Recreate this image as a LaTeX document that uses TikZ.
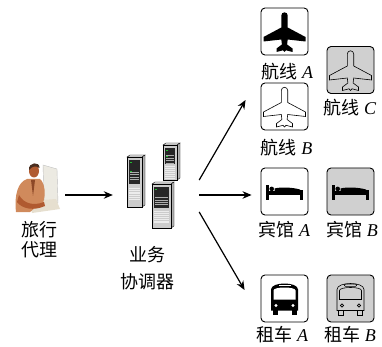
\documentclass[tikz,border=0pt]{standalone}
\usepackage{fontspec}
\setmainfont{Liberation Serif}
\newfontfamily\cjk{Noto Sans CJK SC}[BoldFont={}]
\usetikzlibrary{positioning,calc,arrows.meta}

\definecolor{boxgray}{HTML}{D0D0D0}
\definecolor{skin}{HTML}{B05A30}
\definecolor{shirt}{HTML}{D08A5C}
\definecolor{hair}{HTML}{4A2E20}
\definecolor{monitor}{HTML}{ECEAE2}
\definecolor{desk}{HTML}{E6DFCF}
\definecolor{led}{HTML}{22C030}

\newcommand{\zh}[1]{{\cjk #1}}

% one server tower: x, y (front top-left), width, height
\newcommand{\srvtower}[4]{%
  \begin{scope}[shift={(#1,#2)}]
    \filldraw[fill=gray!25, draw=black, line width=.4pt] (0,0) -- (3,-2) -- ({#3+3},-2) -- (#3,0) -- cycle;
    \filldraw[fill=gray!60, draw=black, line width=.4pt] (#3,0) -- ({#3+3},-2) -- ({#3+3},{#4-2}) -- (#3,#4) -- cycle;
    \filldraw[fill=gray!40, draw=black, line width=.4pt] (0,0) rectangle (#3,#4);
    \fill[black!85] (2,3) rectangle ({#3-2},{0.55*#4});
    \fill[led] (3,5) rectangle (5,6.3);
    \fill[led] (3,{0.2*#4+4}) rectangle (5,{0.2*#4+5.3});
    \foreach \k in {0,...,3}
      \fill[gray!65] (2.8,{0.3*#4+\k*2.4}) rectangle ({#3-2.8},{0.3*#4+\k*2.4+1});
    \foreach \k in {0,...,6}
      \draw[gray!15, line width=.5pt] (2,{0.62*#4+\k*1.9}) -- ({#3-2},{0.62*#4+\k*1.9});
  \end{scope}}

\tikzset{
  iconbox/.style={draw, line width=.9pt, rounded corners=4pt, minimum size=47pt, inner sep=0pt},
  graybox/.style={iconbox, fill=boxgray},
  lbl/.style={inner sep=0pt, font=\fontsize{18}{20}\selectfont},
  flow/.style={-{Stealth[length=9pt,width=7.5pt]}, line width=1.2pt},
  hollow/.style={draw=black, line width=.6pt},
  plane/.pic={
    \path[pic actions] (-3.2,-16) arc[start angle=180, end angle=360, radius=3.2]
      -- (3.2,-4) -- (21,5.5) -- (21,10) -- (3.2,8) -- (2.6,13)
      -- (8,17) -- (8,20.5) -- (1.5,18.8) -- (0,20.5) -- (-1.5,18.8)
      -- (-8,20.5) -- (-8,17) -- (-2.6,13) -- (-3.2,8) -- (-21,10)
      -- (-21,5.5) -- (-3.2,-4) -- cycle;
  },
  bed/.pic={
    \fill (-18.5,-6) rectangle (-15.5,8.5);
    \fill (-15.5,0) rectangle (18.5,4);
    \fill (15.5,-1.5) rectangle (18.5,8.5);
    \fill (-10,0.5) -- (-10,-3) .. controls (-4,-4.6) and (8,-4.2) .. (15.5,-2) -- (15.5,0.5) -- cycle;
    \fill (-12.8,-2.6) circle (2.3);
  },
  bus/.pic={
    \fill (-13.5,12) -- (-13.5,-9) .. controls (-13.5,-17) and (13.5,-17) .. (13.5,-9) -- (13.5,12) -- cycle;
    \fill (-12,11) rectangle (-7,16.5);
    \fill (7,11) rectangle (12,16.5);
    \fill[white] (-11,1) -- (-11,-8) .. controls (-11,-12) and (11,-12) .. (11,-8) -- (11,1) -- cycle;
    \fill[white] (-6,-14) rectangle (6,-12.6);
    \fill[white] (-8.5,7) circle (1.7);
    \fill[white] (8.5,7) circle (1.7);
  },
  hollowbus/.pic={
    \draw[hollow] (-13.5,12) -- (-13.5,-9) .. controls (-13.5,-17) and (13.5,-17) .. (13.5,-9) -- (13.5,12) -- cycle;
    \draw[hollow] (-12,12) -- (-12,16.5) -- (-7,16.5) -- (-7,12);
    \draw[hollow] (7,12) -- (7,16.5) -- (12,16.5) -- (12,12);
    \draw[hollow] (-11,1) -- (-11,-8) .. controls (-11,-12) and (11,-12) .. (11,-8) -- (11,1) -- cycle;
    \draw[hollow, rounded corners=.8pt] (-6,-14.4) rectangle (6,-12.2);
    \draw[hollow] (-8.5,7) circle (1.6);
    \draw[hollow] (8.5,7) circle (1.6);
  }
}

\begin{document}
\begin{tikzpicture}[x=1pt, y=-1pt]
\useasboundingbox (0,0) rectangle (382,347);

% travel agent at his desk
\node[minimum width=52pt, minimum height=64pt, inner sep=0pt] (agent) at (39,195) {};
\filldraw[fill=monitor, draw=gray!50, line width=.4pt] (43,165) -- (57,169) -- (58,203) -- (44,200) -- cycle;
\fill[desk] (28,201) -- (56,199) -- (60,209) -- (32,213) -- cycle;
\fill[shirt] (16,212) .. controls (14,195) and (18,182) .. (27,179) -- (40,179)
  .. controls (45,183) and (46,195) .. (43,203) -- (36,207) -- (30,212) -- cycle;
\fill[skin!80!black] (31,180) -- (35,180) -- (33,196) -- cycle;
\fill[skin] (19,195) .. controls (24,204) and (34,206) .. (44,202) -- (45,206)
  .. controls (34,211) and (22,209) .. (17,202) -- cycle;
\fill[skin] (34,171) ellipse [x radius=5, y radius=6.5];
\fill[hair] (29,170) .. controls (28,162) and (40,161) .. (39.5,168)
  .. controls (36,165.5) and (32,166) .. (29,170) -- cycle;
\node[lbl, align=center] (agenttxt) at (39,240) {\zh{旅行}\\\zh{代理}};

% coordinator servers
\node[minimum width=86pt, minimum height=90pt, inner sep=0pt] (coord) at (156,195) {};
\srvtower{127}{157}{15}{50}
\srvtower{163}{145}{14}{35}
\srvtower{152}{184}{19}{44}
\node[lbl, align=center] (coordtxt) at (147,268.5) {\zh{业务}\\[7pt]\zh{协调器}};

% airlines
\node[iconbox] (airA) at (284.5,31.5) {};
\pic[fill=black] at (airA) {plane};
\node[lbl] (airAtxt) at (287.5,72) {\zh{航线} \textit{A}};
\node[iconbox] (airB) at (284.5,106.5) {};
\pic[fill=white, hollow] at (airB) {plane};
\node[lbl] (airBtxt) at (286.5,148) {\zh{航线} \textit{B}};
\node[graybox] (airC) at (350.5,70) {};
\pic[hollow] at (airC) {plane};
\node[lbl] (airCtxt) at (350,108) {\zh{航线} \textit{C}};

% hotels
\node[iconbox] (hotelA) at (284.5,191.5) {};
\pic at (hotelA) {bed};
\node[lbl] (hotelAtxt) at (284.5,230) {\zh{宾馆} \textit{A}};
\node[graybox] (hotelB) at (350.5,191.5) {};
\pic at (hotelB) {bed};
\node[lbl] (hotelBtxt) at (352,230) {\zh{宾馆} \textit{B}};

% car rental
\node[iconbox] (carA) at (284.5,298.5) {};
\pic at (carA) {bus};
\node[lbl] (carAtxt) at (282.5,335) {\zh{租车} \textit{A}};
\node[graybox] (carB) at (350.5,298.5) {};
\pic at (carB) {hollowbus};
\node[lbl] (carBtxt) at (350,335) {\zh{租车} \textit{B}};

% requests
\draw[flow] (agent) -- (coord);
\draw[flow] ($(coord.east)+(0,-15)$) -- ($(airB.west)+(-15,-6.5)$);
\draw[flow, shorten >=9pt] (coord.east) -- (coord.east -| hotelA.west);
\draw[flow] ($(coord.east)+(0,17)$) -- ($(carA.west)+(-16,-8.5)$);
\end{tikzpicture}
\end{document}
